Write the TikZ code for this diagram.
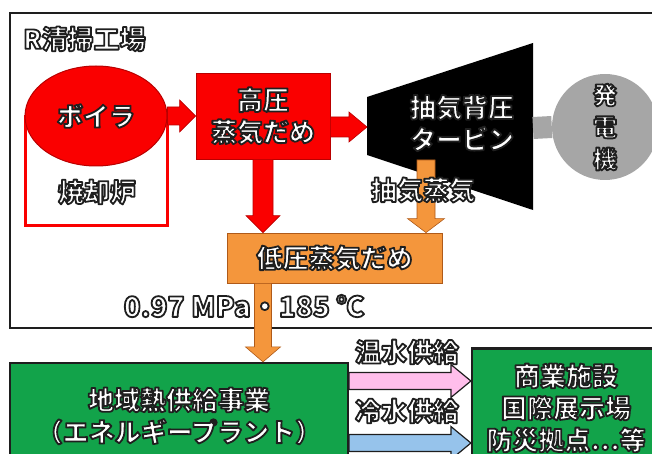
\documentclass[tikz,border=0pt]{standalone}
\usepackage{fontspec}
\newfontfamily\jp{Noto Sans CJK JP}
\usetikzlibrary{calc,shapes.geometric}
\definecolor{cred}{RGB}{250,0,0}
\definecolor{cdred}{RGB}{185,0,0}
\definecolor{corg}{RGB}{244,150,60}
\definecolor{cdorg}{RGB}{175,90,25}
\definecolor{cgrn}{RGB}{18,163,74}
\definecolor{cpink}{RGB}{255,190,235}
\definecolor{cblue}{RGB}{150,195,235}
\definecolor{cgray}{RGB}{166,166,166}
\definecolor{cdark}{RGB}{30,30,30}
\newcommand\barrow[6]{%
  \coordinate (ba) at (#2);
  \coordinate (bb) at (#3);
  \coordinate (bh) at ($(bb)!#6!(ba)$);
  \draw[#1] ($(ba)!#4!90:(bb)$) -- ($(bh)!#4!90:(bb)$) -- ($(bh)!#5!90:(bb)$) -- (bb)
    -- ($(bh)!#5!-90:(bb)$) -- ($(bh)!#4!-90:(bb)$) -- ($(ba)!#4!-90:(bb)$) -- cycle;}
\newcommand\ol[1]{\special{pdf:bcolor [1] [0.12]}\special{pdf:literal direct 2 Tr 1 j 1.8 w 0.12 G}#1\special{pdf:literal direct 0 Tr}\special{pdf:ecolor}}
\tikzset{
  lbl/.style={font=\jp\bfseries\fontsize{26}{32}\selectfont, align=center, inner sep=0pt},
  redbox/.style={lbl, rectangle, fill=cred, draw=cdred, line width=0.8pt},
  orgbox/.style={lbl, rectangle, fill=corg, draw=cdorg, line width=0.8pt},
  grnbox/.style={lbl, rectangle, fill=cgrn, draw=cdark, line width=2.2pt},
  redarr/.style={fill=cred, draw=cdred, line width=0.6pt},
  orgarr/.style={fill=corg, draw=cdorg, line width=0.6pt},
  pinkarr/.style={fill=cpink, draw=cdark, line width=1.2pt},
  bluearr/.style={fill=cblue, draw=cdark, line width=1.2pt},
}
\begin{document}
\begin{tikzpicture}[x=1pt,y=-1pt]
\useasboundingbox (0,0) rectangle (652,454);
% plant frame
\draw[cdark, line width=2.2pt] (10,13) rectangle (680,328);
\node[lbl, anchor=west] (plant) at (23,39) {\ol{R清掃工場}};
% incinerator
\draw[cred, line width=3pt] (25,117) rectangle (167,225);
\node[lbl] (inc) at (97,192) {\ol{焼却炉}};
% boiler
\node[lbl, ellipse, fill=cred, draw=cdred, line width=1pt, minimum width=142pt, minimum height=100pt] (boil) at (96,116) {\ol{ボイラ}};
% high pressure steam header
\node[redbox, minimum width=134pt, minimum height=86pt] (hp) at (263,116) {\ol{高圧\\蒸気だめ}};
% turbine
\fill[black] (367,97) -- (533,43) -- (533,210) -- (367,155) -- cycle;
\coordinate (tin) at (367,127);
\coordinate (tout) at (533,128);
\coordinate (tbot) at (426,160);
\node[lbl] (tt) at (462,123) {\ol{抽気背圧\\タービン}};
% generator
\node[lbl, circle, fill=cgray, minimum size=106pt, font=\jp\bfseries\fontsize{24}{32}\selectfont] (gen) at (605,127) {\ol{発\\電\\機}};
\draw[cgray, line width=22pt] (tout) -- (gen.west);
% low pressure steam header
\node[orgbox, minimum width=215pt, minimum height=50pt] (lp) at (334.5,258) {\ol{低圧蒸気だめ}};
% lower boxes
\node[grnbox, minimum width=338pt, minimum height=106pt] (dh) at (179,416) {\ol{地域熱供給事業\\（エネルギープラント）}};
\node[grnbox, minimum width=188pt, minimum height=119pt] (ex) at (566,408) {\ol{商業施設\\国際展示場\\防災拠点…等}};
\coordinate (hw) at (350,381);
\coordinate (cw) at (350,443);
% arrows
\barrow{redarr}{boil.east}{hp.west}{9pt}{16pt}{16pt}
\barrow{redarr}{hp.east |- tin}{tin}{10pt}{15pt}{18pt}
\barrow{redarr}{hp.south}{hp.south |- lp.north}{10pt}{17pt}{17pt}
\barrow{orgarr}{tbot}{tbot |- lp.north}{9pt}{18.5pt}{14pt}
\barrow{orgarr}{lp.south -| hp.south}{dh.north -| hp.south}{8.5pt}{17.5pt}{15pt}
\barrow{pinkarr}{dh.east |- hw}{ex.west |- hw}{8.5pt}{16.5pt}{20pt}
\barrow{bluearr}{dh.east |- cw}{ex.west |- cw}{8.5pt}{16.5pt}{20pt}
\node[lbl] (ext) at (423,190) {\ol{抽気蒸気}};
\node[lbl] (hot) at (407,352) {\ol{温水供給}};
\node[lbl] (cold) at (407,411) {\ol{冷水供給}};
\node[lbl, font=\jp\bfseries\fontsize{28}{32}\selectfont] (cond) at (244,306) {\ol{0.97 MPa・185 ℃}};
\end{tikzpicture}
\end{document}
